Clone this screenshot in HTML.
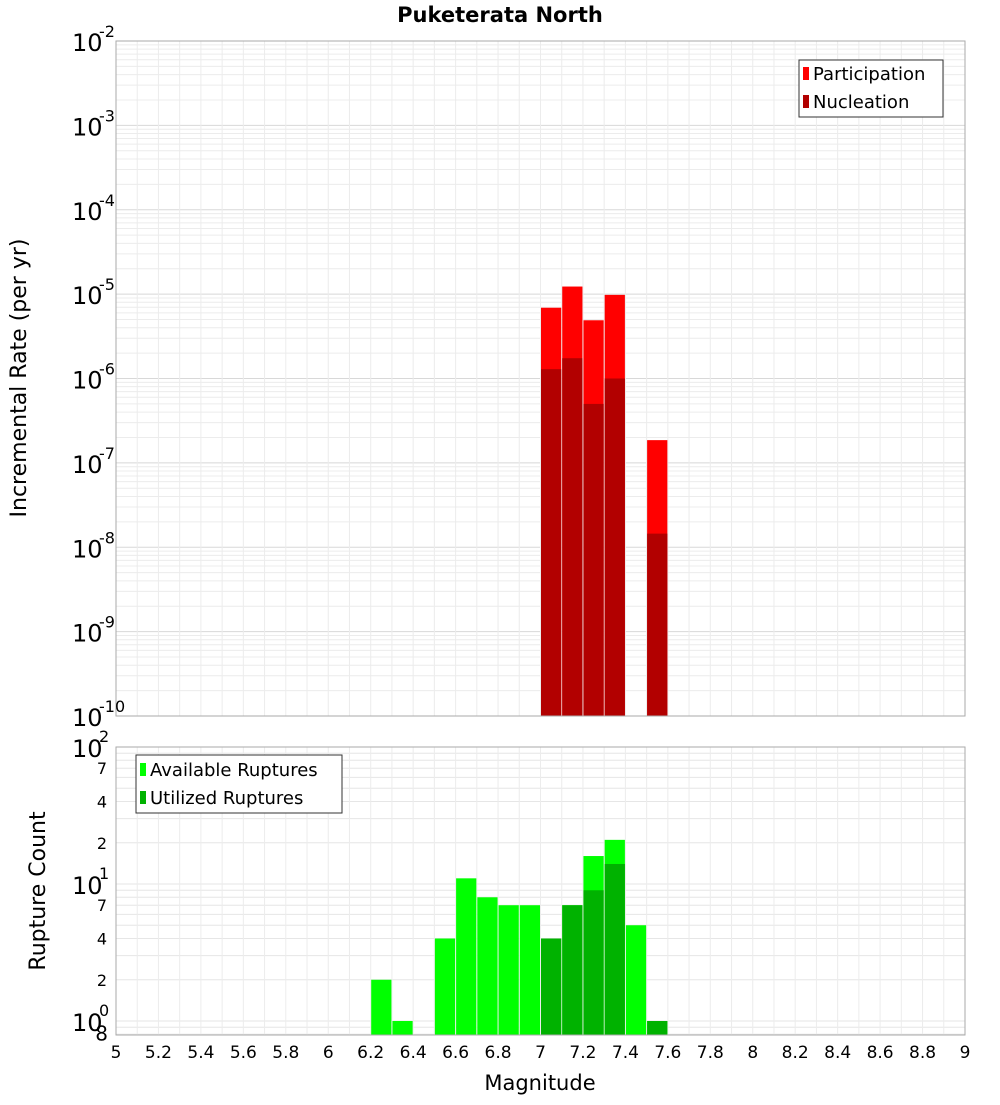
<!DOCTYPE html>
<html><head><meta charset="utf-8"><style>
body{margin:0;background:#fff;font-family:"Liberation Sans",sans-serif}
</style></head><body>
<svg id="c" width="1000" height="1100" xmlns="http://www.w3.org/2000/svg" font-family="DejaVu Sans, Liberation Sans, sans-serif"></svg>
<script>
const mags=[6.25,6.35,6.55,6.65,6.75,6.85,6.95,7.05,7.15,7.25,7.35,7.45,7.55];
const topMags=[7.05,7.15,7.25,7.35,7.55];
const participation=[6.9e-6,1.23e-5,4.9e-6,9.8e-6,1.86e-7];
const nucleation=[1.29e-6,1.74e-6,5.0e-7,1.0e-6,1.45e-8];
const available=[2,1,4,11,8,7,7,4,7,16,21,5,1];
const utilMags=[7.05,7.15,7.25,7.35,7.55];
const utilized=[4,7,9,14,1];
const xTicks=[5,5.2,5.4,5.6,5.8,6,6.2,6.4,6.6,6.8,7,7.2,7.4,7.6,7.8,8,8.2,8.4,8.6,8.8,9];

const S=document.getElementById('c'),NS='http://www.w3.org/2000/svg';
function el(t,a,txt){const e=document.createElementNS(NS,t);for(const k in a)e.setAttribute(k,a[k]);if(txt!==undefined)e.textContent=txt;S.appendChild(e);return e;}
const X0=116,X1=965;
const x=m=>X0+(m-5)/4*(X1-X0);
const T0=41,T1=716;
const yT=v=>T0+(-2-Math.log10(v))/8*(T1-T0);
const B0=747,B1=1035;
const yB=v=>B0+(2-Math.log10(v))*137;

// top plot grid
for(let d=-10;d<-2;d++)for(let k=1;k<10;k++){const yy=yT(k*Math.pow(10,d));const g=el('line',{x1:X0,x2:X1,y1:yy,y2:yy,stroke:k==1?'#d8d8d8':'#ececec','stroke-width':1});}
for(let m=5;m<=9.001;m+=0.1){const xx=x(m);const g=el('line',{x1:xx,x2:xx,y1:T0,y2:T1,stroke:'#ececec'});}
// bottom grid
for(let d=-1;d<2;d++)for(let k=1;k<10;k++){const yy=yB(k*Math.pow(10,d));if(yy>B1||yy<B0)continue;const g=el('line',{x1:X0,x2:X1,y1:yy,y2:yy,stroke:'#e6e6e6'});}
for(let m=5;m<=9.001;m+=0.1){const xx=x(m);const g=el('line',{x1:xx,x2:xx,y1:B0,y2:B1,stroke:'#ececec'});}

const bw=x(5.1)-x(5);
function bar(m,top,bot,fill,name){const r=el('rect',{x:x(m)-bw/2+0.5,y:top,width:bw-1,height:bot-top,fill:fill});}
topMags.forEach((m,i)=>bar(m,yT(participation[i]),T1,'#ff0000','participation-bar'));
topMags.forEach((m,i)=>bar(m,yT(nucleation[i]),T1,'#b20000','nucleation-bar'));
mags.forEach((m,i)=>bar(m,yB(available[i]),B1,'#00ff00','available-bar'));
utilMags.forEach((m,i)=>bar(m,yB(utilized[i]),B1,'#00b200','utilized-bar'));

el('rect',{x:X0,y:T0,width:X1-X0,height:T1-T0,fill:'none',stroke:'#aaa'});
el('rect',{x:X0,y:B0,width:X1-X0,height:B1-B0,fill:'none',stroke:'#aaa'});

// top y labels
for(let d=-10;d<=-2;d++){const yy=yT(Math.pow(10,d));const t=el('text',{x:72,y:yy+10,'font-size':24,fill:'#000'},'10');
const s=el('text',{x:99,y:yy-4,'font-size':16,fill:'#000'},String(d));}
// bottom y labels
[[100,'10','2'],[10,'10','1'],[1,'10','0']].forEach(a=>{const yy=yB(a[0]);el('text',{x:72,y:yy+10,'font-size':24},a[1]);el('text',{x:99,y:yy-5,'font-size':16},a[2]);});
[7,4,2,70,40,20,0.8].forEach(v=>{const yy=yB(v);const t=el('text',{x:v<1?108:107,y:yy+6,'font-size':v<1?20:16,'text-anchor':'end'},String(v>=10?v/10:(v<1?8:v)));});
// x labels
xTicks.forEach(m=>{const t=el('text',{x:x(m),y:1058,'font-size':17,'text-anchor':'middle'},String(m));});
el('text',{x:540,y:1090,'font-size':21,'text-anchor':'middle'},'Magnitude');
el('text',{x:0,y:0,'font-size':22,'text-anchor':'middle',transform:'translate(26,378) rotate(-90)'},'Incremental Rate (per yr)');
el('text',{x:0,y:0,'font-size':22,'text-anchor':'middle',transform:'translate(45,891) rotate(-90)'},'Rupture Count');
el('text',{x:500,y:22,'font-size':21,'font-weight':'bold','text-anchor':'middle'},'Puketerata North');

// legends
el('rect',{x:799,y:60,width:144,height:57,fill:'#fff',stroke:'#333'});
el('rect',{x:803,y:67,width:6,height:13,fill:'#ff0000'});
el('text',{x:813,y:80,'font-size':18},'Participation');
el('rect',{x:803,y:95,width:6,height:13,fill:'#b20000'});
el('text',{x:813,y:108,'font-size':18},'Nucleation');
el('rect',{x:136,y:755,width:206,height:58,fill:'#fff',stroke:'#333'});
el('rect',{x:140,y:763,width:6,height:13,fill:'#00ff00'});
el('text',{x:150,y:776,'font-size':18},'Available Ruptures');
el('rect',{x:140,y:791,width:6,height:13,fill:'#00b200'});
el('text',{x:150,y:804,'font-size':18},'Utilized Ruptures');
</script>
</body></html>
